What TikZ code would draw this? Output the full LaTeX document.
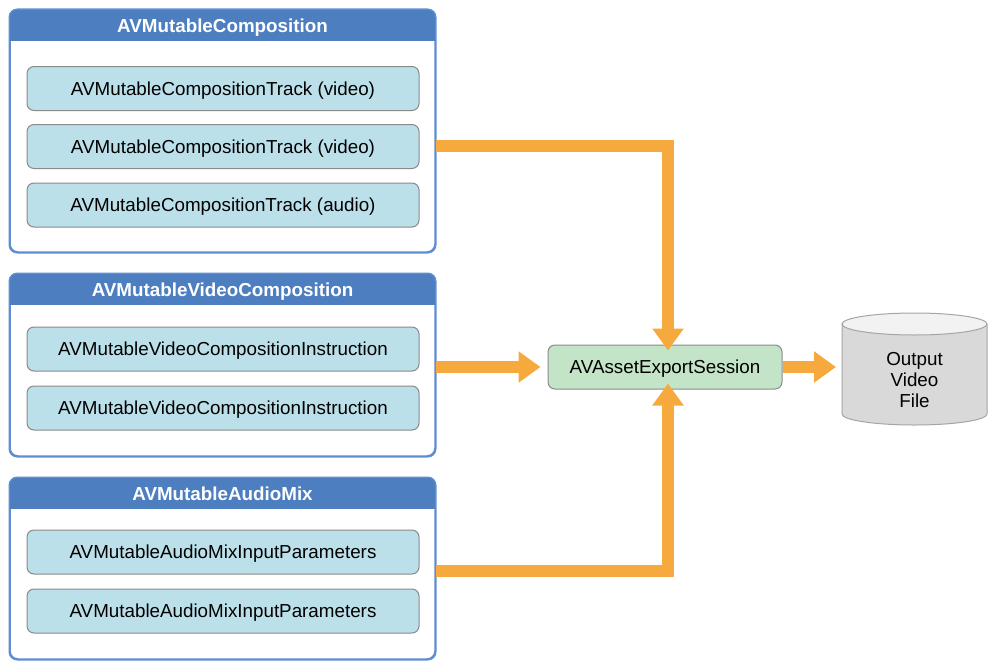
\documentclass[tikz,border=0pt]{standalone}
\usepackage{fontspec}
\setmainfont{Liberation Sans}
\usetikzlibrary{arrows.meta}
\definecolor{hdrblue}{RGB}{76,126,192}
\definecolor{frameblue}{RGB}{96,140,210}
\definecolor{itemfill}{RGB}{188,224,234}
\definecolor{itemdraw}{RGB}{138,138,138}
\definecolor{greenfill}{RGB}{196,228,200}
\definecolor{arroworange}{RGB}{246,169,60}
\definecolor{cylbody}{RGB}{217,217,217}
\definecolor{cyltop}{RGB}{242,242,242}
\definecolor{cyldraw}{RGB}{165,165,165}
\tikzset{
  frame/.style={draw=frameblue, line width=1.5pt, fill=white, rounded corners=8pt, inner sep=0pt, minimum width=425pt},
  titletext/.style={text=white, font=\fontsize{18.8}{22}\selectfont\bfseries, inner sep=0pt, text height=13.5pt, text depth=0pt},
  item/.style={draw=itemdraw, line width=1pt, fill=itemfill, rounded corners=7pt, minimum width=392pt, minimum height=44pt, inner sep=0pt, text height=13.5pt, text depth=0pt, font=\fontsize{18.8}{22}\selectfont},
  export/.style={draw=itemdraw, line width=1pt, fill=greenfill, rounded corners=7pt, minimum width=234pt, minimum height=44pt, inner sep=0pt, text height=13.5pt, text depth=0pt, font=\fontsize{18.8}{22}\selectfont},
  flow/.style={draw=arroworange, line width=12pt, -{Triangle[width=30pt,length=22pt]}}
}
\begin{document}
\begin{tikzpicture}[x=1pt,y=-1pt]
\useasboundingbox (0,0) rectangle (1000,669);
% container frames
\node[frame, minimum height=242pt] (comp) at (222.5,131) {};
\node[frame, minimum height=182pt] (vcomp) at (222.5,365) {};
\node[frame, minimum height=181pt] (amix) at (222.5,568.5) {};
\foreach \f in {comp,vcomp,amix}{
  \begin{scope}
    \clip[rounded corners=8pt] (\f.south west) rectangle (\f.north east);
    \fill[hdrblue] (\f.north west) rectangle ([yshift=-32pt]\f.north east);
  \end{scope}
  \draw[frameblue, line width=1.5pt, rounded corners=8pt] (\f.south west) rectangle (\f.north east);
}
\node[titletext] (compt) at (222.5,26) {AVMutableComposition};
\node[titletext] (vcompt) at (222.5,290) {AVMutableVideoComposition};
\node[titletext] (amixt) at (222.5,494) {AVMutableAudioMix};
% items
\node[item] (c1) at (223,88.5) {AVMutableCompositionTrack (video)};
\node[item] (c2) at (223,146.5) {AVMutableCompositionTrack (video)};
\node[item] (c3) at (223,205) {AVMutableCompositionTrack (audio)};
\node[item] (v1) at (223,349) {AVMutableVideoCompositionInstruction};
\node[item] (v2) at (223,408) {AVMutableVideoCompositionInstruction};
\node[item] (a1) at (223,552) {AVMutableAudioMixInputParameters};
\node[item] (a2) at (223,611) {AVMutableAudioMixInputParameters};
% export session
\node[export] (exp) at (665,367) {AVAssetExportSession};
% cylinder
\fill[cylbody] (842,324) -- (842,414) arc[start angle=180, end angle=360, x radius=72.5, y radius=-11] -- (987,324) -- cycle;
\draw[cyldraw, line width=1pt] (842,324) -- (842,414) arc[start angle=180, end angle=360, x radius=72.5, y radius=-11] -- (987,324);
\draw[cyldraw, fill=cyltop, line width=1pt] (914.5,324) ellipse[x radius=72.5, y radius=11];
\node[font=\fontsize{18.8}{21}\selectfont, align=center, inner sep=0pt] (out) at (914.5,380) {Output\\Video\\File};
\coordinate (outw) at (842,367);
% arrows
\coordinate (b1) at (668,146);
\coordinate (b3) at (668,571);
\draw[flow] (comp.east |- b1) -- (b1) -- ([yshift=-6pt]exp.north -| b1);
\draw[flow] (vcomp.east |- exp) -- ([xshift=-7pt]exp.west);
\draw[flow] (amix.east |- b3) -- (b3) -- ([yshift=6pt]exp.south -| b1);
\draw[flow] (exp.east) -- ([xshift=-6pt]outw);
\end{tikzpicture}
\end{document}
